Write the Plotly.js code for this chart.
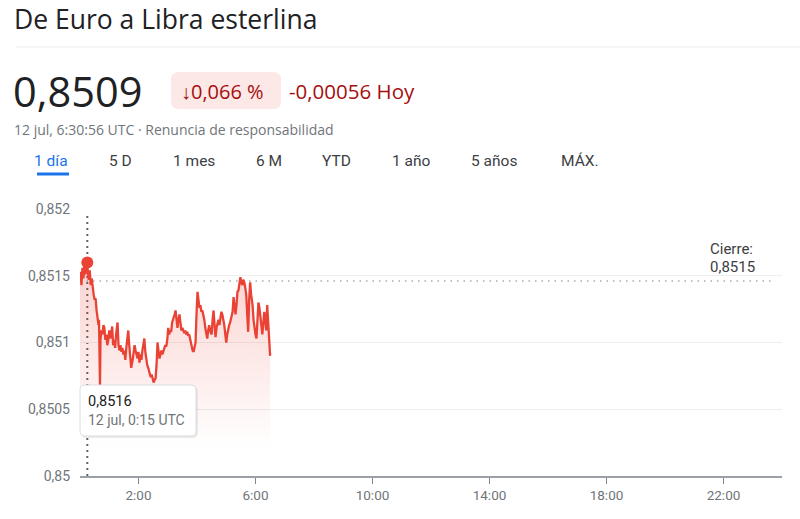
<!DOCTYPE html>
<html>
<head>
<meta charset="utf-8">
<script src="https://cdn.plot.ly/plotly-3.0.1.min.js"></script>
<style>
  html, body { margin: 0; padding: 0; background: #fff; }
  #chart { width: 800px; height: 519px; }
</style>
</head>
<body>
<div id="chart"></div>
<script>
// ---- Data (EUR -> GBP, 12 jul, UTC) ----
const day = "2023-07-12";
const minutesUTC = [0,1,3,5,7,9,11,15,16,18,20,22,24,26,28,30,32,34,36,38,39,41,42,44,46,48,50,52,54,56,58,60,62,64,66,68,70,72,74,77,79,81,83,85,87,89,91,93,95,97,99,101,103,105,108,110,112,114,116,118,120,122,124,126,128,130,132,134,136,138,140,142,145,147,149,151,153,155,157,159,161,163,165,167,169,171,173,175,177,179,181,183,185,187,189,191,194,196,198,200,202,204,206,208,210,212,214,216,218,220,222,224,226,229,231,233,235,237,239,241,243,245,247,249,251,253,255,257,259,261,263,265,267,270,272,274,276,278,280,282,284,286,288,290,292,294,296,298,300,302,304,306,308,310,313,315,317,319,321,323,325,327,329,331,333,335,337,339,341,343,345,347,349,351,354,356,358,360,362,364,366,368,370,372,374,376,378,380,382,384,386,388,390];
const rate = [0.85147,0.85153,0.85143,0.85156,0.85148,0.85158,0.85151,0.8516,0.85153,0.85147,0.85154,0.85143,0.85148,0.85139,0.85136,0.85132,0.85133,0.85124,0.85118,0.85113,0.85117,0.85068,0.85102,0.85109,0.85106,0.85113,0.85111,0.85102,0.85106,0.85098,0.85102,0.85109,0.85103,0.85106,0.85112,0.85098,0.85102,0.85096,0.85106,0.85115,0.85098,0.85094,0.85098,0.85093,0.85096,0.85091,0.85094,0.85087,0.85096,0.85102,0.85109,0.85098,0.85087,0.85081,0.85087,0.85093,0.85098,0.85094,0.85091,0.85088,0.85093,0.85085,0.85091,0.85087,0.85094,0.85098,0.85103,0.85093,0.85087,0.85083,0.85081,0.85078,0.85074,0.85076,0.85072,0.8507,0.85072,0.85073,0.85083,0.851,0.85094,0.85088,0.85091,0.85094,0.85091,0.85094,0.85096,0.85098,0.85097,0.85102,0.85111,0.85106,0.85109,0.85108,0.85115,0.85117,0.85121,0.85124,0.85117,0.85111,0.85117,0.85121,0.85115,0.85109,0.85111,0.85108,0.85107,0.85109,0.85106,0.85108,0.85105,0.85106,0.85102,0.85098,0.85094,0.85093,0.85096,0.851,0.85121,0.85138,0.85132,0.85126,0.85128,0.85123,0.85124,0.85121,0.85117,0.85111,0.85106,0.85103,0.85109,0.85113,0.85109,0.85106,0.85117,0.85124,0.85113,0.85104,0.85111,0.85115,0.85117,0.85113,0.85118,0.85123,0.85121,0.85118,0.85113,0.85106,0.851,0.85106,0.85111,0.85113,0.85115,0.85118,0.85123,0.85134,0.85128,0.85121,0.85128,0.85138,0.85139,0.85143,0.85149,0.85145,0.85143,0.85147,0.85145,0.85141,0.85136,0.85121,0.85108,0.85132,0.85145,0.85136,0.85128,0.85117,0.85109,0.85106,0.85103,0.85117,0.8513,0.85126,0.85121,0.85113,0.85106,0.85113,0.85123,0.85117,0.85109,0.85128,0.85117,0.85106,0.8509];
const previousClose = 0.85146;
const highlightMinute = 15;
const highlightValue = 0.8516;
const yTickVals = [0.85, 0.8505, 0.851, 0.8515, 0.852];
const yTickText = ["0,85", "0,8505", "0,851", "0,8515", "0,852"];
const xTickHours = [2, 6, 10, 14, 18, 22];
const xTickText = ["2:00", "6:00", "10:00", "14:00", "18:00", "22:00"];
const tabs = ["1 día", "5 D", "1 mes", "6 M", "YTD", "1 año", "5 años", "MÁX."];

// ---- helpers ----
function pad(n) { return (n < 10 ? "0" : "") + n; }
function minToDate(m) { return day + " " + pad(Math.floor(m / 60)) + ":" + pad(m % 60); }
const xs = minutesUTC.map(minToDate);

// pixel -> paper helpers for page-like decorations
const L = 80, R = 782, T = 209, B = 476;
const px = x => (x - L) / (R - L);
const py = y => (B - y) / (B - T);
function roundRect(x0, y0, x1, y1, r) {
  const a = px(x0), b = px(x1), c = py(y0), d = py(y1);
  const rx = r / (R - L), ry = r / (B - T);
  return `M${a + rx},${c} L${b - rx},${c} Q${b},${c} ${b},${c - ry} L${b},${d + ry} Q${b},${d} ${b - rx},${d} L${a + rx},${d} Q${a},${d} ${a},${d + ry} L${a},${c - ry} Q${a},${c} ${a + rx},${c} Z`;
}

const RED = "#ea4335";
const FONT = "Roboto, Arial, sans-serif";
const HFONT = "'Open Sans', Roboto, Arial, sans-serif";

const traces = [
  {
    x: xs, y: rate, type: "scatter", mode: "lines",
    line: { color: RED, width: 2.3 },
    fill: "tozeroy",
    fillgradient: {
      type: "vertical", start: 0.8502, stop: 0.8516,
      colorscale: [[0, "rgba(234,67,53,0)"], [1, "rgba(234,67,53,0.24)"]]
    },
    hoverinfo: "skip"
  },
  {
    x: [minToDate(highlightMinute)], y: [highlightValue], type: "scatter", mode: "markers",
    marker: { color: RED, size: 12 }, hoverinfo: "skip"
  }
];

const ann = (text, x, y, size, color, family, opts) => Object.assign({
  text: text, xref: "paper", yref: "paper", x: px(x), y: py(y),
  xanchor: "left", yanchor: "middle", showarrow: false, borderpad: 0,
  font: { family: family || FONT, size: size, color: color }
}, opts || {});

const tabX = [33, 108, 172, 255, 321, 391, 470, 560];
const annotations = [
  ann("De Euro a Libra esterlina", 13, 19, 26.5, "#202124", HFONT),
  ann("0,8509", 12, 91, 41.5, "#202124", HFONT),
  ann("↓0,066 %", 180, 91, 20, "#a50e0e", HFONT),
  ann("-0,00056 Hoy", 288, 91, 20.5, "#a50e0e", HFONT),
  ann("12 jul, 6:30:56 UTC · Renuncia de responsabilidad", 13, 129, 14, "#70757a", HFONT),
  ann("Cierre:", 709, 249, 15, "#3c4043"),
  ann("0,8515", 709, 267, 15, "#3c4043"),
  ann("0,8516", 87, 401, 14.5, "#202124"),
  ann("12 jul, 0:15 UTC", 87, 420, 14, "#70757a")
];
tabs.forEach((t, i) => annotations.push(ann(t, tabX[i], 161, 15.5, i === 0 ? "#1a73e8" : "#3c4043")));

const shapes = [
  { type: "line", xref: "paper", yref: "paper", x0: px(16), x1: px(800), y0: py(47), y1: py(47),
    line: { color: "#ebebeb", width: 1 } },
  { type: "path", xref: "paper", yref: "paper", path: roundRect(171, 72, 281, 109, 8),
    fillcolor: "#fce8e6", line: { width: 0 } },
  { type: "line", xref: "paper", yref: "paper", x0: px(37), x1: px(69), y0: py(174), y1: py(174),
    line: { color: "#1a73e8", width: 3 } },
  { type: "line", xref: "x", yref: "y", layer: "between",
    x0: minToDate(0), x1: minToDate(23 * 60 + 40), y0: previousClose, y1: previousClose,
    line: { color: "#a8acb0", width: 1.5, dash: "1.5px,5px" } },
  { type: "line", xref: "x", yref: "paper", layer: "between",
    x0: minToDate(highlightMinute), x1: minToDate(highlightMinute), y0: 0, y1: py(213),
    line: { color: "#5f6368", width: 2, dash: "2px,4px" } },
  { type: "path", xref: "paper", yref: "paper", path: roundRect(81, 387, 198, 438, 5),
    fillcolor: "rgba(0,0,0,0.07)", line: { width: 0 }, layer: "above" },
  { type: "path", xref: "paper", yref: "paper", path: roundRect(80, 385, 196, 436, 5),
    fillcolor: "#ffffff", line: { color: "#dadce0", width: 1 }, layer: "above" }
];

const layout = {
  width: 800, height: 519,
  margin: { l: L, r: 800 - R, t: T, b: 519 - B, autoexpand: false },
  paper_bgcolor: "#ffffff", plot_bgcolor: "#ffffff",
  showlegend: false, hovermode: false,
  font: { family: FONT, color: "#70757a", size: 13 },
  xaxis: {
    type: "date", range: [minToDate(0), "2023-07-13 00:00"],
    tickvals: xTickHours.map(h => minToDate(h * 60)), ticktext: xTickText,
    showgrid: false, zeroline: false,
    showline: true, linecolor: "#9aa0a6", linewidth: 1.5,
    ticks: "outside", ticklen: 6, tickwidth: 1.5, tickcolor: "#80868b",
    tickfont: { family: FONT, size: 13.5, color: "#70757a" }, fixedrange: true
  },
  yaxis: {
    range: [0.85, 0.852], tickvals: yTickVals, ticktext: yTickText,
    showgrid: true, gridcolor: "#eceef0", gridwidth: 1, zeroline: false, showline: false,
    ticks: "", ticklabelstandoff: 9,
    tickfont: { family: FONT, size: 14, color: "#70757a" }, fixedrange: true
  },
  annotations: annotations,
  shapes: shapes
};

Plotly.newPlot("chart", traces, layout, { displayModeBar: false, staticPlot: true });
</script>
</body>
</html>
